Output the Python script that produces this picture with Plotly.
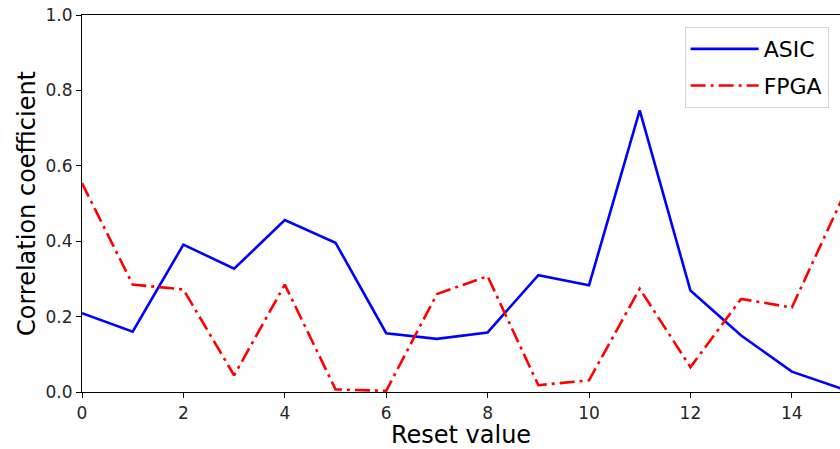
import plotly.graph_objects as go

reset_values = list(range(16))
asic = [0.209, 0.160, 0.391, 0.327, 0.456, 0.396, 0.156, 0.141, 0.158, 0.310,
        0.283, 0.747, 0.269, 0.150, 0.054, 0.008]
fpga = [0.554, 0.285, 0.272, 0.044, 0.285, 0.007, 0.003, 0.260, 0.307, 0.018,
        0.031, 0.274, 0.066, 0.247, 0.224, 0.515]
x_ticks = [0, 2, 4, 6, 8, 10, 12, 14]
y_ticks = [0.0, 0.2, 0.4, 0.6, 0.8, 1.0]
y_tick_labels = ["0.0", "0.2", "0.4", "0.6", "0.8", "1.0"]

FONT = "DejaVu Sans"

fig = go.Figure()
fig.add_trace(go.Scatter(x=reset_values, y=asic, mode="lines", name="ASIC",
                         legendgroup="a",
                         line=dict(color="#0000ff", width=2.6)))
fig.add_trace(go.Scatter(x=reset_values, y=fpga, mode="lines", name="FPGA",
                         legendgroup="b",
                         line=dict(color="#ff0000", width=2.6, dash="15px,5px,3px,5px")))

fig.update_layout(
    width=840, height=449,
    margin=dict(l=82, r=0, t=15, b=57),
    paper_bgcolor="white", plot_bgcolor="white",
    font=dict(family=FONT, color="#262626"),
    showlegend=True,
    legend=dict(x=0.985, y=0.968, xanchor="right", yanchor="top",
                bgcolor="rgba(255,255,255,0.8)", bordercolor="#d4d4d4", borderwidth=1,
                font=dict(family=FONT, size=22, color="#000000"),
                itemwidth=68, tracegroupgap=5),
)
fig.update_xaxes(
    range=[0, 14.95], tickvals=x_ticks, ticks="outside", ticklen=5, tickwidth=1,
    tickcolor="#000", showline=True, linecolor="#000", linewidth=1.2, mirror=True,
    showgrid=False, zeroline=False, tickfont=dict(size=17, color="#262626"),
    title=dict(text="Reset value", font=dict(size=24, color="#000"), standoff=7),
)
fig.update_yaxes(
    range=[0, 1.0], tickvals=y_ticks, ticktext=y_tick_labels, ticks="outside",
    ticklen=5, tickwidth=1, tickcolor="#000", showline=True, linecolor="#000",
    linewidth=1.2, showgrid=False, zeroline=False,
    tickfont=dict(size=17, color="#262626"),
    title=dict(text="Correlation coefficient", font=dict(size=24, color="#000"), standoff=3),
)

fig.write_html(
    "out.html",
    config={"displayModeBar": False},
    post_script="document.body.style.margin='0';document.body.style.overflow='hidden';",
)
